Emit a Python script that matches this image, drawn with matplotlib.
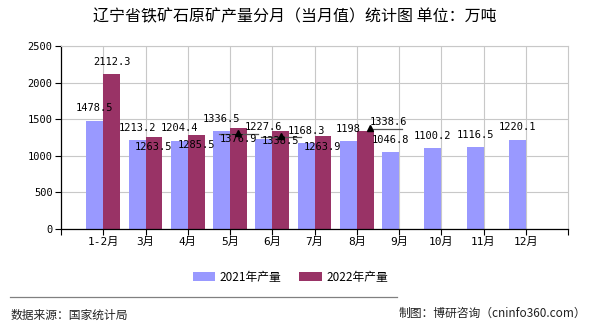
import matplotlib
matplotlib.use("Agg")
import matplotlib.pyplot as plt
import numpy as np

plt.rcParams["font.family"] = ["Noto Sans CJK SC", "DejaVu Sans"]

MONO = ["DejaVu Sans Mono", "Noto Sans CJK SC"]
C2021, C2022, GRID = "#9999ff", "#993366", "#c8c8c8"

months = ["1-2月", "3月", "4月", "5月", "6月", "7月", "8月", "9月", "10月", "11月", "12月"]
prod_2021 = [1478.5, 1213.2, 1204.4, 1336.5, 1227.6, 1168.3, 1198, 1046.8, 1100.2, 1116.5, 1220.1]
prod_2022 = [2112.3, 1263.5, 1285.5, 1376.9, 1338.5, 1263.9, 1338.6]
# where each 2022 value label sits relative to its bar top
pos_2022 = ["above", "below", "below", "below", "below", "below", "side"]

fig = plt.figure(figsize=(5.9, 3.3), dpi=100)
ax = fig.add_axes([61 / 590, 101 / 330, 507 / 590, 183 / 330])

x = np.arange(len(months))
x22 = x[:len(prod_2022)]
w = 0.4
ax.bar(x - w / 2, prod_2021, w, color=C2021, label="2021年产量", zorder=2)
ax.bar(x22 + w / 2, prod_2022, w, color=C2022, label="2022年产量", zorder=2)

for xi, v in zip(x, prod_2021):
    ax.annotate(f"{v:g}", (xi - w / 2, v), textcoords="offset points", xytext=(0, 9),
                ha="center", va="center", fontsize=7.5, family=MONO, zorder=4)

for xi, v, p in zip(x22, prod_2022, pos_2022):
    if p == "above":
        off = (0, 9)
    elif p == "below":
        off = (0, -7.5)
    else:
        off = (17, 6.5)
    ax.annotate(f"{v:g}", (xi + w / 2, v), textcoords="offset points", xytext=off,
                ha="center", va="center", fontsize=7.5, family=MONO, zorder=4)

# leader lines + arrow heads left over from label dragging
for i in (3, 4):
    v = prod_2022[i]
    ax.plot([i - 0.26, i + 0.67], [v - 80, v - 80], color="#555555", lw=0.9, zorder=3)
    ax.plot(i + 0.2, v - 68, marker="^", ms=4.5, color="black", zorder=3)
ax.plot([6.32, 7.08], [prod_2022[6] + 28, prod_2022[6] + 28], color="#555555", lw=0.9, zorder=3)
ax.plot(6.32, prod_2022[6] + 45, marker="^", ms=4.5, color="black", zorder=3)

ax.set_xlim(-1, 11)
ax.set_ylim(0, 2500)
ax.set_yticks(np.arange(0, 2501, 500))
ax.set_xticks(x)
ax.set_xticklabels(months, family=MONO, fontsize=8)
ax.set_xticks([-1, 11], minor=True)
for lab in ax.get_yticklabels():
    lab.set_family(MONO)
    lab.set_fontsize(7.5)
ax.tick_params(axis="both", which="both", length=4, width=0.8, color="black", pad=2)
ax.grid(True, color=GRID, lw=0.8, zorder=0)
ax.set_axisbelow(True)
for s in ("top", "right"):
    ax.spines[s].set_color(GRID)
for s in ("left", "bottom"):
    ax.spines[s].set_color("black")
    ax.spines[s].set_linewidth(0.9)

fig.text(0.5, 1 - 17 / 330, "辽宁省铁矿石原矿产量分月（当月值）统计图 单位：万吨",
         ha="center", va="center", fontsize=11.5)

fig.legend(loc="center", bbox_to_anchor=(0.492, 1 - 277 / 330), ncol=2, frameon=False,
           fontsize=8.5, handlelength=1.9, handleheight=0.7, columnspacing=1.5,
           handletextpad=0.4)

fig.add_artist(plt.Line2D([10 / 590, 397 / 590], [1 - 297 / 330, 1 - 297 / 330],
                          color="#808080", lw=0.9))
fig.text(11 / 590, 1 - 315 / 330, "数据来源：国家统计局", ha="left", va="center",
         fontsize=8.5, color="#222222")
fig.text(586 / 590, 1 - 313 / 330, "制图：博研咨询（cninfo360.com）", ha="right",
         va="center", fontsize=8.5, color="#222222")

fig.savefig("out.png", dpi=100)
